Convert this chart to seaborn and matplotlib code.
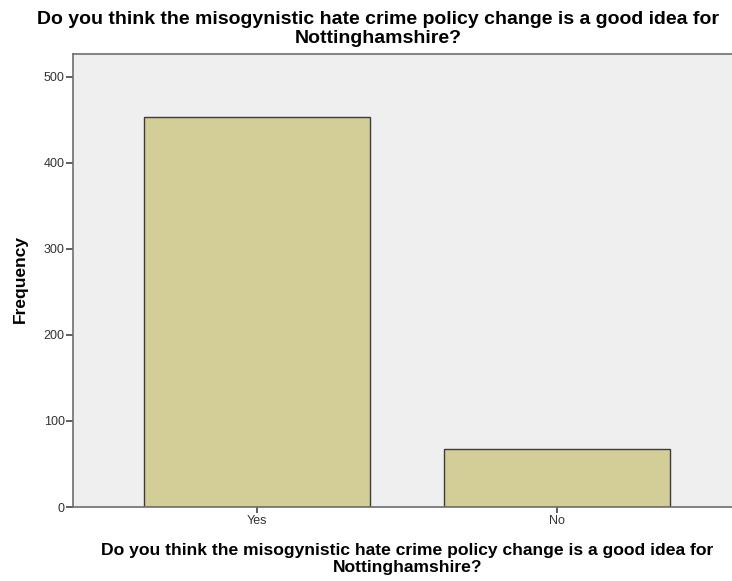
import matplotlib
matplotlib.use("Agg")
import matplotlib.pyplot as plt
import seaborn as sns
import pandas as pd

categories = ['Yes', 'No']
frequency = [453, 67]
question = 'Do you think the misogynistic hate crime policy change is a good idea for\nNottinghamshire?'

sns.set_style('white')
plt.rcParams['font.family'] = ['Liberation Sans', 'DejaVu Sans']

df = pd.DataFrame({'answer': categories, 'count': frequency})

fig = plt.figure(figsize=(7.32, 5.81), dpi=100)
# axes run off the right edge like the original export
ax = fig.add_axes([73 / 732, (581 - 507) / 581, (741 - 73) / 732, (507 - 53.5) / 581])
ax.set_facecolor('#efefef')

sns.barplot(data=df, x='answer', y='count', color='#d3ce98', edgecolor='#3c3c3c',
            linewidth=1.0, width=0.753, saturation=1, ax=ax)

ax.set_xlim(-0.613, 1.613)
ax.set_ylim(0, 527)
ax.set_yticks([0, 100, 200, 300, 400, 500])
for s in ['top', 'right', 'left', 'bottom']:
    ax.spines[s].set_color('#6e6e6e')
    ax.spines[s].set_linewidth(1.2)
ax.tick_params(axis='both', direction='out', length=5, width=1.2, color='#444444',
               labelsize=9, labelcolor='#333333', pad=1, bottom=True, left=True)
ax.tick_params(axis='x', length=4, pad=2)

ax.set_xlabel('')
ax.set_ylabel('')
fig.text(20 / 732, 1 - 279 / 581, 'Frequency', rotation=90, ha='center', va='center',
         fontsize=12.5, fontweight='bold', color='black')

fig.text(378 / 732, 1 - 11 / 581, question, ha='center', va='top',
         fontsize=14, fontweight='bold', linespacing=1.12, color='black')
fig.text(407.5 / 732, 1 - 543 / 581, question, ha='center', va='top',
         fontsize=12.6, fontweight='bold', linespacing=1.15, color='black')

plt.savefig('out.png', dpi=100)
